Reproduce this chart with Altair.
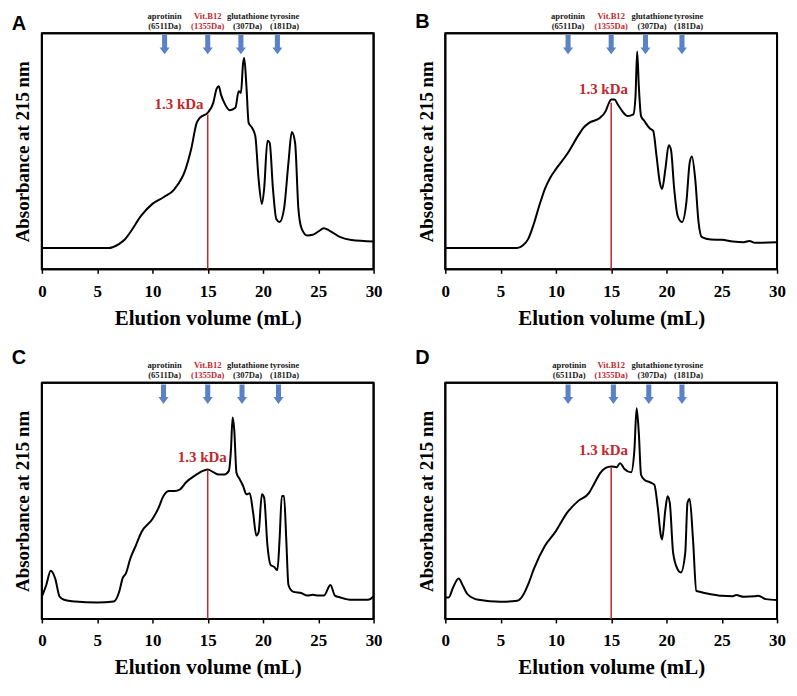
import altair as alt
import pandas as pd

# ---------------- data ----------------
A_x = [0, 6, 7, 7.5, 8, 9, 10, 11, 12, 13, 13.5, 14, 14.3, 15, 15.5, 15.8, 16, 16.2, 16.5, 17, 17.5, 17.8, 18,
       18.2, 18.3, 18.5, 18.7, 19, 19.3, 19.6, 19.9, 20.1, 20.4, 20.6, 20.9, 21.2, 21.5, 21.9, 22.3, 22.6, 22.9,
       23.2, 23.5, 24, 24.5, 25, 25.5, 26, 27, 28, 30]
A_y = [9.0, 9.0, 10.8, 12.6, 15.7, 22.8, 27.7, 30.5, 34.0, 42.4, 50.8, 62.0, 64.2, 66.3, 70.5, 76.4, 77.5, 74.0,
       70.5, 67.4, 68.4, 75.4, 74.7, 87.4, 89.5, 77.5, 62.0, 60.0, 56.5, 38.2, 27.7, 34.0, 54.4, 53.6, 34.0, 21.3,
       20.0, 25.6, 45.2, 58.1, 53.6, 25.6, 17.1, 14.3, 14.6, 16.0, 17.4, 16.4, 13.6, 12.4, 11.8]

B_x = [0, 6.5, 7, 7.5, 8, 8.5, 9, 9.5, 10, 11, 12, 12.5, 13, 14, 14.5, 14.8, 15, 15.3, 15.6, 16, 16.5, 17, 17.2,
       17.35, 17.5, 17.7, 18, 18.5, 18.8, 19.1, 19.4, 19.6, 19.9, 20.2, 20.4, 20.7, 21, 21.4, 21.8, 22.1, 22.3,
       22.6, 22.9, 23.2, 24, 25, 26, 27, 27.5, 28, 30]
B_y = [9.0, 9.0, 10.1, 12.9, 19.2, 27.0, 34.0, 38.9, 42.4, 48.7, 56.5, 60.0, 62.0, 64.2, 67.0, 70.5, 71.9, 71.9,
       69.8, 67.0, 64.9, 65.6, 73.3, 92.3, 77.5, 64.9, 62.8, 59.6, 58.6, 48.0, 36.8, 34.0, 42.4, 52.5, 50.8, 34.0,
       22.8, 20.0, 28.4, 45.2, 47.8, 38.2, 20.0, 13.6, 12.6, 12.5, 11.8, 11.5, 12.0, 11.2, 11.5]

C_x = [0, 0.4, 0.8, 1.2, 1.6, 2, 3, 5, 6.5, 7, 7.3, 7.6, 8, 8.5, 9, 10, 10.5, 11, 11.5, 12, 12.5, 13, 14, 14.5, 15,
       15.5, 16, 16.5, 16.9, 17.1, 17.25, 17.4, 17.6, 17.9, 18.2, 18.5, 18.8, 19.1, 19.4, 19.6, 19.9, 20.1, 20.4,
       20.7, 21, 21.3, 21.5, 21.7, 21.9, 22.1, 22.3, 22.7, 23.5, 24, 24.5, 25, 25.5, 26.1, 26.5, 27, 28, 29.5, 30]
C_y = [9.5, 14.4, 20.4, 17.2, 9.5, 8.1, 7.4, 7.0, 7.4, 11.6, 17.2, 19.3, 25.6, 31.1, 36.7, 42.3, 46.5, 52.1, 54.2,
       54.2, 54.9, 57.7, 61.2, 62.6, 63.3, 62.2, 61.2, 61.2, 62.6, 71.6, 85.3, 80.0, 61.9, 59.1, 56.3, 52.8, 53.2,
       45.1, 35.3, 36.7, 52.8, 51.4, 31.1, 22.8, 22.1, 20.7, 33.9, 52.1, 52.1, 33.9, 14.4, 11.6, 10.9, 9.9, 10.2,
       9.9, 9.9, 14.4, 9.9, 9.1, 8.1, 8.1, 9.5]

D_x = [0, 0.3, 0.7, 1.2, 1.6, 2, 3, 5, 6.5, 7, 7.5, 8, 9, 10, 11, 12, 13, 13.5, 14, 14.5, 15, 15.5, 15.8, 16.2,
       16.8, 17.1, 17.3, 17.5, 17.7, 18, 18.5, 18.9, 19.2, 19.5, 19.6, 19.9, 20.1, 20.3, 20.6, 21, 21.3, 21.7,
       21.9, 22.1, 22.4, 22.7, 23, 24, 25, 26, 26.3, 27, 28, 28.3, 29, 30]
D_y = [9.1, 9.1, 13.3, 17.1, 14.0, 10.5, 8.1, 7.3, 7.7, 9.8, 14.7, 21.1, 30.9, 37.2, 44.9, 49.9, 53.4, 57.6, 61.8,
       64.0, 64.6, 64.3, 66.0, 63.5, 62.1, 71.6, 89.2, 78.7, 61.1, 59.0, 57.9, 56.9, 47.8, 35.1, 33.7, 46.3, 52.0,
       49.2, 28.1, 21.1, 19.7, 28.1, 49.2, 50.8, 33.7, 11.9, 11.5, 10.5, 9.8, 9.6, 10.1, 9.4, 9.6, 9.8, 8.4, 8.0]

panel_letters = ["A", "B", "C", "D"]
curves_x = [A_x, B_x, C_x, D_x]
curves_y = [A_y, B_y, C_y, D_y]

# marker line at 1.3 kDa (x, top value) and its label (x, y)
cut_x = [15, 15, 15, 15]
cut_top = [65.6, 70.5, 63.3, 64.2]
cut_label = "1.3 kDa"
cut_label_x = [12.4, 14.3, 14.5, 14.3]
cut_label_y = [69.8, 76.4, 68.6, 71.6]

# standards (arrows + labels)
std_names = ["aprotinin", "Vit.B12", "glutathione", "tyrosine"]
std_mass = ["(6511Da)", "(1355Da)", "(307Da)", "(181Da)"]
std_colors = ["#1a1a1a", "#c0282d", "#1a1a1a", "#1a1a1a"]
arrow_x = [[11.1, 15.0, 18.0, 21.3], [11.1, 15.0, 18.1, 21.4], [11.0, 15.0, 18.1, 21.4], [11.1, 15.2, 18.4, 21.4]]
std_label_x = [[11.1, 15.0, 18.6, 21.95], [11.1, 15.0, 18.7, 22.0], [11.1, 15.0, 18.6, 21.95], [11.2, 15.0, 18.7, 22.0]]

x_ticks = [0, 5, 10, 15, 20, 25, 30]

SERIF = "Liberation Serif"
RED = "#c0282d"
BLUE = "#5b82c4"
ARROW = "M -0.26 -1 L 0.26 -1 L 0.26 0.3 L 0.52 0.3 L 0 1 L -0.52 0.3 L -0.26 0.3 Z"

W, H = 333, 237

X_AXIS = dict(values=x_ticks, title="Elution volume (mL)", grid=False, domain=False, labelFlush=False,
              labelFont=SERIF, labelFontWeight="bold", labelFontSize=17, labelColor="black",
              labelPadding=10, tickColor="black", tickWidth=1.5, tickSize=4,
              titleFont=SERIF, titleFontWeight="bold", titleFontSize=21, titleColor="black", titlePadding=8)
Y_AXIS = dict(title="Absorbance at 215 nm", labels=False, ticks=False, domain=False, grid=False,
              titleFont=SERIF, titleFontWeight="bold", titleFontSize=19, titleColor="black", titlePadding=9)


def panel(i, letter_dy):
    xscale = alt.Scale(domain=[0, 30], nice=False)
    yscale = alt.Scale(domain=[0, 100], nice=False)

    edges = pd.DataFrame({"x0": [0, 0, 0, 30], "x1": [30, 30, 0, 30],
                          "y0": [0, 100, 0, 0], "y1": [0, 100, 100, 100]})
    frame = alt.Chart(edges).mark_rule(color="black", strokeWidth=2).encode(
        x=alt.X("x0:Q", scale=xscale, axis=alt.Axis(**X_AXIS)), x2="x1:Q",
        y=alt.Y("y0:Q", scale=yscale, axis=alt.Axis(**Y_AXIS)), y2="y1:Q")

    curve = pd.DataFrame({"v": curves_x[i], "a": curves_y[i]})
    line = alt.Chart(curve).mark_line(color="black", strokeWidth=2, interpolate="monotone").encode(
        x="v:Q", y="a:Q")

    cut = pd.DataFrame({"v": [cut_x[i]], "a0": [0], "a1": [cut_top[i]],
                        "lx": [cut_label_x[i]], "ly": [cut_label_y[i]], "t": [cut_label]})
    rule = alt.Chart(cut).mark_rule(color=RED, strokeWidth=1.5).encode(x="v:Q", y="a0:Q", y2="a1:Q")
    cut_txt = alt.Chart(cut).mark_text(color=RED, font=SERIF, fontWeight="bold", fontSize=15,
                                       align="center", baseline="middle").encode(
        x="lx:Q", y="ly:Q", text="t:N")

    std = pd.DataFrame({"ax": arrow_x[i], "lx": std_label_x[i], "name": std_names,
                        "mass": std_mass, "col": std_colors,
                        "ay": [95.2] * 4, "y1": [107.4] * 4, "y2": [103.2] * 4})
    arrows = alt.Chart(std).mark_point(shape=ARROW, size=380, filled=True, opacity=1,
                                       color=BLUE, strokeWidth=0).encode(x="ax:Q", y="ay:Q")
    names = alt.Chart(std).mark_text(font=SERIF, fontWeight="bold", fontSize=8.6, baseline="middle").encode(
        x="lx:Q", y="y1:Q", text="name:N", color=alt.Color("col:N", scale=None))
    masses = alt.Chart(std).mark_text(font=SERIF, fontWeight="bold", fontSize=8.6, baseline="middle").encode(
        x="lx:Q", y="y2:Q", text="mass:N", color=alt.Color("col:N", scale=None))

    letter = alt.Chart(pd.DataFrame({"t": [panel_letters[i]]})).mark_text(
        font="Liberation Sans", fontWeight="bold", fontSize=20, color="black",
        align="center", baseline="middle").encode(
        x=alt.value(-23), y=alt.value(letter_dy), text="t:N")

    return alt.layer(frame, line, rule, cut_txt, arrows, names, masses, letter).properties(width=W, height=H)


row1 = alt.hconcat(panel(0, -9), panel(1, -11), spacing=30)
row2 = alt.hconcat(panel(2, -25), panel(3, -25), spacing=30)
chart = alt.vconcat(row1, row2, spacing=18).properties(
    padding={"left": 2, "top": 1, "right": 2, "bottom": 2}
).configure_view(stroke="black", strokeWidth=2)

chart.save("out.html", embed_options={"renderer": "svg", "actions": False})
